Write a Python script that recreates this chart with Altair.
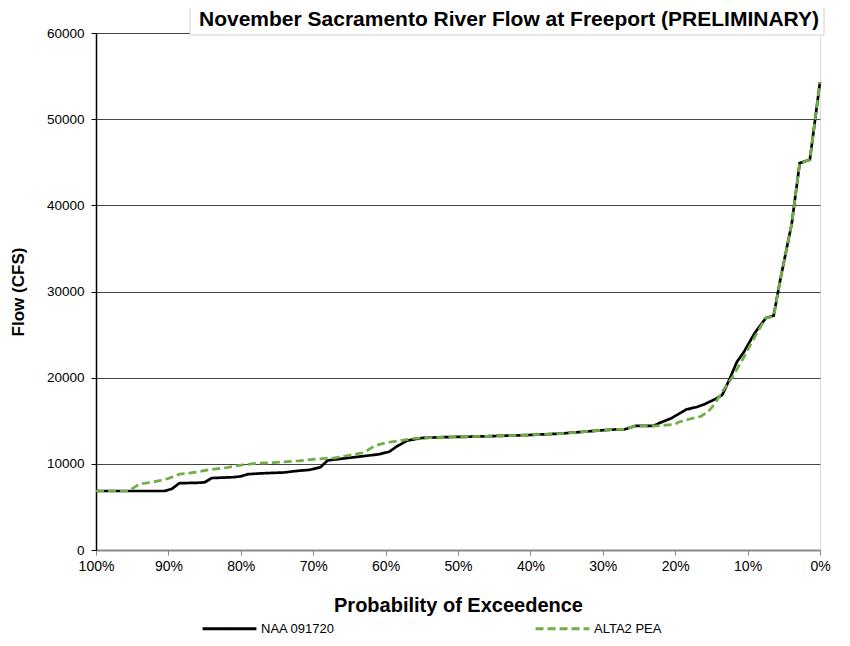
import altair as alt
import pandas as pd

naa_p = [100, 90.5, 89.5, 88.5, 86, 85, 84, 81, 80, 79, 77, 74, 72, 70.5, 69, 68, 66, 63, 61, 59.5,
         58.5, 57, 55, 52, 48, 44, 40, 36, 33, 30, 28, 27, 25.5, 23, 22, 20.5, 19.5, 18.5, 17, 16,
         14.5, 13.5, 12.5, 11.5, 10.5, 9, 7.5, 6.4, 5.5, 3.9, 2.8, 1.4, 0]
naa_flow = [6850, 6850, 7100, 7750, 7800, 7850, 8350, 8450, 8550, 8800, 8900, 9000, 9200, 9300, 9600,
            10400, 10600, 10900, 11100, 11400, 12000, 12700, 13000, 13100, 13150, 13250, 13350, 13500,
            13700, 13900, 14000, 14000, 14400, 14400, 14800, 15300, 15800, 16300, 16600, 16900, 17500,
            18000, 19800, 21800, 23000, 25200, 26900, 27200, 31300, 37900, 44900, 45300, 54300]

alta_p = [100, 95.5, 94, 92, 90, 88.5, 86, 84.5, 82, 80, 78, 75.5, 72, 69.5, 67, 65, 63, 61.5, 60, 58,
          56, 52, 48, 44, 40, 36, 33, 30, 28, 27, 25.5, 22.5, 20, 19.5, 18, 16.5, 15.5, 14.5, 13.5, 12,
          10.5, 9.5, 8, 7.5, 6.4, 5.5, 3.9, 2.8, 1.4, 0]
alta_flow = [6850, 6850, 7650, 7900, 8300, 8800, 9050, 9300, 9550, 9850, 10050, 10150, 10350, 10550,
             10700, 11000, 11300, 12100, 12450, 12700, 12950, 13100, 13150, 13250, 13350, 13500, 13700,
             13900, 14000, 14000, 14400, 14400, 14600, 14850, 15200, 15500, 16000, 17000, 18400, 20200,
             22400, 24000, 26200, 26900, 27100, 31300, 37900, 44900, 45300, 54300]

series_names = ["NAA 091720", "ALTA2 PEA"]
series_colors = ["#000000", "#70AD47"]
title_text = "November Sacramento River Flow at Freeport (PRELIMINARY)"

rows = []
for i, (p, f) in enumerate(zip(naa_p, naa_flow)):
    rows.append({"p": p / 100, "flow": f, "series": series_names[0], "k": i})
for i, (p, f) in enumerate(zip(alta_p, alta_flow)):
    rows.append({"p": p / 100, "flow": f, "series": series_names[1], "k": i})
df = pd.DataFrame(rows)

FONT = "Liberation Sans"

legend_opts = dict(title=None, orient="none", legendX=105, legendY=567,
                   direction="horizontal", symbolType="stroke",
                   symbolSize=2900, symbolStrokeWidth=3, labelFontSize=13,
                   columnPadding=194, padding=0, labelOffset=3, labelColor="#000000")

lines = alt.Chart(df).mark_line(strokeWidth=2.7, clip=False).encode(
    x=alt.X("p:Q",
            scale=alt.Scale(domain=[1, 0], nice=False, zero=False),
            axis=alt.Axis(format=".0%", values=[i / 10 for i in range(11)], grid=False,
                          title="Probability of Exceedence", titleFontSize=20, titleFontWeight="bold",
                          titlePadding=22, labelFontSize=14, labelPadding=4, tickSize=5,
                          labelFlush=False, labelOverlap=False,
                          domainColor="#888888", domainWidth=2, tickColor="#888888",
                          labelColor="#000000", titleColor="#000000")),
    y=alt.Y("flow:Q",
            scale=alt.Scale(domain=[0, 60000], nice=False),
            axis=alt.Axis(format="d", values=[i * 10000 for i in range(7)], grid=True,
                          gridColor="#444444", gridWidth=1,
                          title="Flow (CFS)", titleFontSize=17, titleFontWeight="bold",
                          titlePadding=19, labelFontSize=13.5, labelPadding=7, tickSize=5,
                          labelFlush=False,
                          domainColor="#000000", domainWidth=1.5, tickColor="#000000",
                          labelColor="#000000", titleColor="#000000")),
    color=alt.Color("series:N",
                    scale=alt.Scale(domain=series_names, range=series_colors),
                    legend=alt.Legend(**legend_opts)),
    strokeDash=alt.StrokeDash("series:N",
                              scale=alt.Scale(domain=series_names, range=[[1, 0], [8, 4]]),
                              legend=alt.Legend(**legend_opts)),
    order=alt.Order("k:Q"),
)

one = alt.Data(values=[{"a": 1}])
box = alt.Chart(one).mark_rect(fill="white", stroke="#d0d0d0", strokeWidth=1).encode(
    x=alt.value(94), x2=alt.value(728), y=alt.value(-28), y2=alt.value(2)
)
title = alt.Chart(one).mark_text(align="right", baseline="middle", fontSize=21,
                                 fontWeight="bold", font=FONT, color="black").encode(
    x=alt.value(723), y=alt.value(-13), text=alt.value(title_text)
)

chart = alt.layer(lines, box, title).properties(
    width=724, height=517,
    autosize=alt.AutoSizeParams(type="none"),
    padding={"left": 88, "top": 25, "right": 22, "bottom": 88},
).configure_view(stroke="#999999", strokeWidth=2).configure(
    font=FONT
).configure_axis(labelFont=FONT, titleFont=FONT).configure_legend(labelFont=FONT)

chart.save("out.html", embed_options={"renderer": "svg", "actions": False})
